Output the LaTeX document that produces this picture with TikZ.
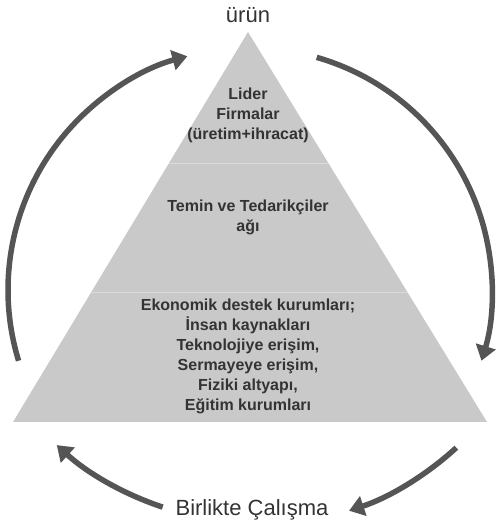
\documentclass[tikz,border=0pt]{standalone}
\usepackage{fontspec}
\setmainfont{Liberation Sans}
\usetikzlibrary{arrows.meta,calc}
\definecolor{pyrfill}{HTML}{C9C9C9}
\definecolor{arrowgray}{HTML}{555555}
\definecolor{textgray}{HTML}{333333}

\begin{document}
\begin{tikzpicture}[x=1pt, y=1pt,
    tiertext/.style={align=center, font=\fontsize{16}{20}\selectfont\bfseries, text=textgray},
    endtext/.style={font=\fontsize{22}{26}\selectfont, text=textgray},
    looparrow/.style={line width=5.5pt, draw=arrowgray, -{Triangle[length=15pt,width=20pt]}}
]
\useasboundingbox (0,0) rectangle (496,522);

% pyramid
\coordinate (apex) at (248,490);
\coordinate (bl) at (13,100);
\coordinate (br) at (487,100);
\fill[pyrfill] (apex) -- (br) -- (bl) -- cycle;
\draw[white, line width=0.8pt, opacity=0.35] ($(bl)!0.664!(apex)$) -- ($(br)!0.664!(apex)$);
\draw[white, line width=0.8pt, opacity=0.35] ($(bl)!0.333!(apex)$) -- ($(br)!0.333!(apex)$);

\node[tiertext] (lider) at (248,407) {Lider\\Firmalar\\(üretim+ihracat)};
\node[tiertext] (temin) at (248,305) {Temin ve Tedarikçiler\\ağı};
\node[tiertext] (destek) at (248,166) {Ekonomik destek kurumları;\\İnsan kaynakları\\Teknolojiye erişim,\\Sermayeye erişim,\\Fiziki altyapı,\\Eğitim kurumları};

\node[endtext] (urun) at (248,507) {ürün};
\node[endtext] (birlikte) at (252,12) {Birlikte Çalışma};

% arrows round the pyramid
\coordinate (upstart) at ($(250,232)+(197:242)$);
\coordinate (downstart) at ($(250,232)+(74:242)$);
\coordinate (rightstart) at ($(255,294)+(-47.5:298)$);
\coordinate (leftstart) at ($(255,294)+(-108.3:294)$);
\draw[looparrow] (upstart) arc[start angle=197, end angle=105, radius=242];
\draw[looparrow] (downstart) arc[start angle=74, end angle=-17, radius=242];
\draw[looparrow] (rightstart) arc[start angle=-47.5, end angle=-71.6, radius=298];
\draw[looparrow] (leftstart) arc[start angle=-108.3, end angle=-132.4, radius=294];
\end{tikzpicture}
\end{document}
